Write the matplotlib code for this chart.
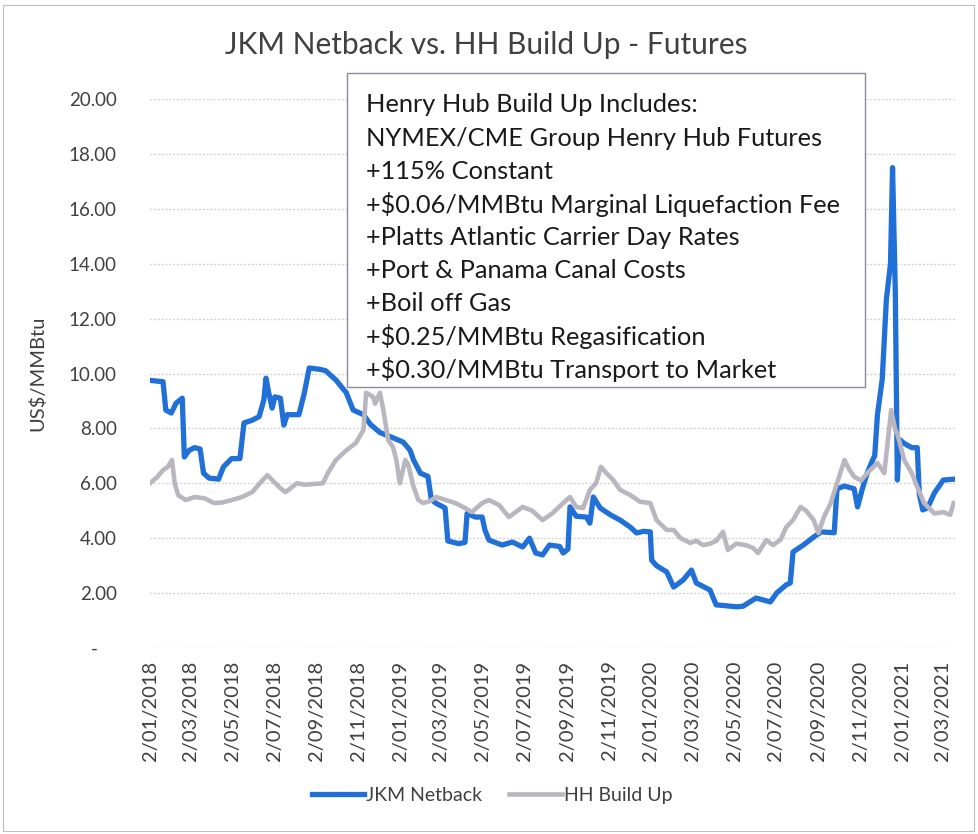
import matplotlib
matplotlib.use("Agg")
import matplotlib.pyplot as plt
from matplotlib.patches import Rectangle
import pandas as pd

plt.rcParams["font.family"] = ["Lato", "DejaVu Sans"]

# JKM Netback (US$/MMBtu)
jkm_dates = [
    "2018-01-02", "2018-01-21", "2018-01-25", "2018-02-02", "2018-02-09", "2018-02-18",
    "2018-02-21", "2018-02-28", "2018-03-08", "2018-03-16", "2018-03-21", "2018-03-29",
    "2018-04-12", "2018-04-19", "2018-05-01", "2018-05-13", "2018-05-19", "2018-05-31",
    "2018-06-10", "2018-06-17", "2018-06-20", "2018-06-24", "2018-06-29", "2018-07-03",
    "2018-07-11", "2018-07-16", "2018-07-21", "2018-08-07", "2018-08-15", "2018-08-22",
    "2018-09-07", "2018-09-15", "2018-09-30", "2018-10-15", "2018-10-25", "2018-11-09",
    "2018-11-19", "2018-12-03", "2018-12-18", "2019-01-06", "2019-01-16", "2019-01-21",
    "2019-01-31", "2019-02-11", "2019-02-16", "2019-02-23", "2019-03-08", "2019-03-12",
    "2019-03-28", "2019-04-06", "2019-04-09", "2019-04-21", "2019-05-01", "2019-05-05",
    "2019-05-11", "2019-05-30", "2019-06-14", "2019-06-29", "2019-07-09", "2019-07-18",
    "2019-07-28", "2019-08-07", "2019-08-22", "2019-08-27", "2019-09-03", "2019-09-06",
    "2019-09-15", "2019-09-30", "2019-10-05", "2019-10-10", "2019-10-20", "2019-11-04",
    "2019-11-18", "2019-12-03", "2019-12-12", "2019-12-22", "2020-01-01", "2020-01-03",
    "2020-01-10", "2020-01-25", "2020-02-04", "2020-02-18", "2020-03-01", "2020-03-08",
    "2020-03-28", "2020-04-06", "2020-04-16", "2020-05-05", "2020-05-15", "2020-06-03",
    "2020-06-24", "2020-07-03", "2020-07-17", "2020-07-23", "2020-07-27", "2020-08-11",
    "2020-08-26", "2020-09-06", "2020-09-25", "2020-09-29", "2020-10-10", "2020-10-24",
    "2020-10-29", "2020-11-05", "2020-11-12", "2020-11-20", "2020-11-23", "2020-11-27",
    "2020-12-04", "2020-12-10", "2020-12-16", "2020-12-19", "2020-12-23", "2020-12-26",
    "2020-12-29", "2021-01-05", "2021-01-16", "2021-01-24", "2021-01-27", "2021-02-01",
    "2021-02-08", "2021-02-18", "2021-03-03", "2021-03-18",
]
jkm_values = [
    9.75, 9.70, 8.67, 8.56, 8.92, 9.10,
    6.96, 7.20, 7.30, 7.25, 6.37, 6.19,
    6.15, 6.60, 6.90, 6.90, 8.20, 8.30,
    8.43, 9.05, 9.83, 9.30, 8.74, 9.15,
    9.10, 8.12, 8.50, 8.50, 9.30, 10.20,
    10.15, 10.10, 9.76, 9.30, 8.67, 8.50,
    8.15, 7.85, 7.70, 7.50, 7.20, 6.85,
    6.37, 6.25, 5.40, 5.27, 5.10, 3.90,
    3.80, 3.85, 4.90, 4.77, 4.77, 4.30,
    3.93, 3.75, 3.86, 3.68, 4.00, 3.46,
    3.39, 3.75, 3.70, 3.46, 3.60, 5.14,
    4.80, 4.77, 4.55, 5.50, 5.10, 4.85,
    4.66, 4.40, 4.19, 4.25, 4.23, 3.20,
    3.00, 2.77, 2.22, 2.48, 2.84, 2.37,
    2.11, 1.57, 1.55, 1.50, 1.52, 1.82,
    1.68, 2.00, 2.30, 2.37, 3.50, 3.75,
    4.04, 4.23, 4.20, 5.80, 5.90, 5.80,
    5.14, 5.80, 6.37, 6.85, 7.00, 8.50,
    9.80, 12.70, 14.00, 17.50, 13.00, 6.12,
    7.60, 7.45, 7.30, 7.30, 5.60, 5.03,
    5.10, 5.65, 6.12, 6.15,
]

# HH Build Up (US$/MMBtu)
hh_dates = [
    "2018-01-02", "2018-01-13", "2018-01-21", "2018-01-28", "2018-02-03", "2018-02-07",
    "2018-02-12", "2018-02-23", "2018-03-08", "2018-03-23", "2018-04-05", "2018-04-17",
    "2018-05-01", "2018-05-16", "2018-05-31", "2018-06-11", "2018-06-22", "2018-06-29",
    "2018-07-09", "2018-07-18", "2018-07-25", "2018-08-04", "2018-08-16", "2018-09-11",
    "2018-09-18", "2018-09-30", "2018-10-15", "2018-10-29", "2018-11-09", "2018-11-13",
    "2018-11-23", "2018-11-26", "2018-12-03", "2018-12-08", "2018-12-15", "2018-12-22",
    "2018-12-27", "2019-01-01", "2019-01-09", "2019-01-13", "2019-01-21", "2019-01-28",
    "2019-02-04", "2019-02-14", "2019-02-23", "2019-03-08", "2019-03-23", "2019-04-06",
    "2019-04-16", "2019-05-01", "2019-05-11", "2019-05-26", "2019-06-09", "2019-06-29",
    "2019-07-13", "2019-07-28", "2019-08-11", "2019-08-27", "2019-09-06", "2019-09-15",
    "2019-09-25", "2019-10-05", "2019-10-14", "2019-10-21", "2019-10-29", "2019-11-08",
    "2019-11-18", "2019-12-03", "2019-12-17", "2020-01-01", "2020-01-10", "2020-01-25",
    "2020-02-04", "2020-02-14", "2020-02-28", "2020-03-08", "2020-03-18", "2020-03-28",
    "2020-04-06", "2020-04-16", "2020-04-23", "2020-05-05", "2020-05-19", "2020-05-30",
    "2020-06-06", "2020-06-18", "2020-06-28", "2020-07-09", "2020-07-17", "2020-07-27",
    "2020-08-07", "2020-08-15", "2020-08-26", "2020-09-02", "2020-09-10", "2020-09-20",
    "2020-09-29", "2020-10-10", "2020-10-17", "2020-10-24", "2020-11-03", "2020-11-12",
    "2020-11-27", "2020-12-07", "2020-12-17", "2020-12-23", "2020-12-26", "2021-01-05",
    "2021-01-16", "2021-01-24", "2021-02-03", "2021-02-18", "2021-03-03", "2021-03-13",
    "2021-03-18",
]
hh_values = [
    6.00, 6.24, 6.48, 6.60, 6.85, 6.00,
    5.57, 5.39, 5.50, 5.45, 5.28, 5.30,
    5.39, 5.50, 5.68, 6.00, 6.30, 6.12,
    5.87, 5.68, 5.80, 6.00, 5.95, 6.00,
    6.37, 6.85, 7.20, 7.47, 7.94, 9.30,
    9.15, 8.90, 9.30, 8.67, 7.58, 7.32,
    6.85, 6.00, 6.85, 6.70, 5.87, 5.39,
    5.28, 5.35, 5.50, 5.40, 5.28, 5.10,
    4.95, 5.28, 5.39, 5.20, 4.77, 5.14,
    5.00, 4.66, 4.90, 5.28, 5.50, 5.14,
    5.10, 5.76, 6.00, 6.60, 6.37, 6.12,
    5.76, 5.57, 5.33, 5.28, 4.66, 4.30,
    4.30, 4.00, 3.83, 3.90, 3.75, 3.80,
    3.90, 4.23, 3.57, 3.80, 3.75, 3.64,
    3.46, 3.93, 3.75, 3.95, 4.40, 4.66,
    5.14, 5.00, 4.66, 4.19, 4.77, 5.28,
    6.00, 6.85, 6.50, 6.24, 6.10, 6.37,
    6.74, 6.37, 8.67, 7.94, 7.80, 6.85,
    6.37, 5.87, 5.28, 4.90, 4.95, 4.85,
    5.28,
]

tick_labels = [
    "2/01/2018", "2/03/2018", "2/05/2018", "2/07/2018", "2/09/2018", "2/11/2018",
    "2/01/2019", "2/03/2019", "2/05/2019", "2/07/2019", "2/09/2019", "2/11/2019",
    "2/01/2020", "2/03/2020", "2/05/2020", "2/07/2020", "2/09/2020", "2/11/2020",
    "2/01/2021", "2/03/2021",
]

note_lines = [
    "Henry Hub Build Up Includes:",
    "NYMEX/CME Group Henry Hub Futures",
    "+115% Constant",
    "+$0.06/MMBtu Marginal Liquefaction Fee",
    "+Platts Atlantic Carrier Day Rates",
    "+Port & Panama Canal Costs",
    "+Boil off Gas",
    "+$0.25/MMBtu Regasification",
    "+$0.30/MMBtu Transport to Market",
]

W, H = 979, 834
fig = plt.figure(figsize=(W / 100, H / 100), dpi=100)
fig.patch.set_facecolor("white")
fig.patches.append(Rectangle((3 / W, 3 / H), 1 - 8 / W, 1 - 8 / H, transform=fig.transFigure,
                             fill=False, edgecolor="#bdbdbd", linewidth=0.8))

ax = fig.add_axes([150 / W, 1 - 648 / H, 805 / W, 549 / H])

jkm_x = pd.to_datetime(jkm_dates)
hh_x = pd.to_datetime(hh_dates)
ax.plot(jkm_x, jkm_values, color="#2170d8", linewidth=3.8, label="JKM Netback",
        solid_joinstyle="round", zorder=3)
ax.plot(hh_x, hh_values, color="#bab6c0", linewidth=3.3, label="HH Build Up",
        solid_joinstyle="round", zorder=4)

ax.set_ylim(0, 20)
ax.set_yticks(range(0, 21, 2))
ax.set_yticklabels(["-    "] + [f"{v:.2f}" for v in range(2, 21, 2)])
ax.set_xlim(pd.Timestamp("2018-01-02"), pd.Timestamp("2021-03-20"))
tick_dates = pd.to_datetime(tick_labels, format="%d/%m/%Y")
ax.set_xticks(tick_dates)
ax.set_xticklabels(tick_labels, rotation=90)

ax.tick_params(axis="y", length=0, labelsize=13.5, colors="#404040", pad=24)
ax.tick_params(axis="x", length=0, labelsize=14.5, colors="#404040", pad=9)
ax.grid(axis="y", color="#cfcfcf", linestyle=(0, (1.5, 1.5)), linewidth=0.9)
ax.set_axisbelow(True)
for s in ax.spines.values():
    s.set_visible(False)

ax.set_ylabel("US$/MMBtu", fontsize=14.5, color="#404040", labelpad=16)

fig.text(486 / W, 1 - 45 / H, "JKM Netback vs. HH Build Up - Futures", ha="center", va="center",
         fontsize=21.5, color="#404040")

# note box
fig.patches.append(Rectangle((347 / W, 1 - 387 / H), 518 / W, 314 / H, transform=fig.transFigure,
                             facecolor="white", edgecolor="#8a8a9a", linewidth=1.0, zorder=5))
for i, line in enumerate(note_lines):
    fig.text(366 / W, 1 - (103 + i * 33.1) / H, line, ha="left", va="center_baseline",
             fontsize=18.3, color="#1a1a1a", zorder=6)

ax.legend(loc="center", bbox_to_anchor=(0.425, -0.268), ncol=2, frameon=False,
          fontsize=14, handlelength=2.7, columnspacing=1.4, handletextpad=0.1,
          labelcolor="#404040")

fig.savefig("out.png", dpi=100)
